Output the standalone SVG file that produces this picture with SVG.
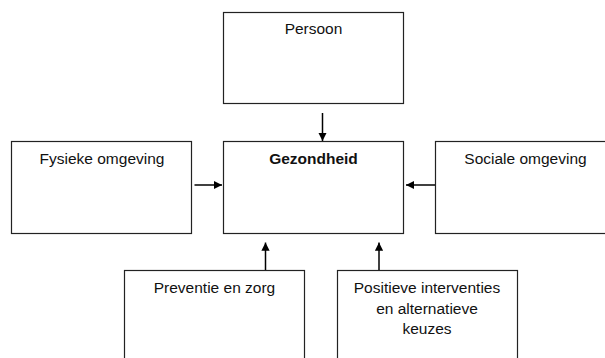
<svg xmlns="http://www.w3.org/2000/svg" width="605" height="358" viewBox="0 0 605 358">
<style>
.box{fill:#fff;stroke:#222;stroke-width:1.2}
.t{font-family:"Liberation Sans",Arial,sans-serif;font-size:15.5px;fill:#111;text-anchor:middle}
.b{font-weight:bold}
.c{stroke:#000;stroke-width:1.5;fill:none;marker-end:url(#ah)}
</style>
<defs>
<marker id="ah" viewBox="0 0 10 10" refX="10" refY="5" markerWidth="5.5" markerHeight="5.5" orient="auto" markerUnits="strokeWidth">
<path d="M0,0 L10,5 L0,10 z" fill="#000"/>
</marker>
</defs>
<rect width="605" height="358" fill="#fff"/>
<g id="persoon"><rect class="box" x="223.5" y="12.5" width="180" height="91"/><text class="t" x="313.5" y="34">Persoon</text></g>
<g id="gezondheid"><rect class="box" x="223.5" y="141.5" width="180" height="92"/><text class="t b" x="313.5" y="164">Gezondheid</text></g>
<g id="fysieke"><rect class="box" x="11.5" y="141.5" width="180" height="92"/><text class="t" x="102" y="164">Fysieke omgeving</text></g>
<g id="sociale"><rect class="box" x="435.5" y="141.5" width="180" height="92"/><text class="t" x="525.5" y="164">Sociale omgeving</text></g>
<g id="preventie"><rect class="box" x="124.5" y="270.5" width="180" height="100"/><text class="t" x="214.5" y="293">Preventie en zorg</text></g>
<g id="positieve"><rect class="box" x="337.5" y="270.5" width="180" height="100"/><text class="t" x="427" y="293">Positieve interventies</text><text class="t" x="427" y="313.5">en alternatieve</text><text class="t" x="427" y="334">keuzes</text></g>
<g id="connectors">
<line class="c" x1="322.5" y1="113" x2="322.5" y2="141"/>
<line class="c" x1="194.5" y1="185" x2="222" y2="185"/>
<line class="c" x1="435" y1="185" x2="406" y2="185"/>
<line class="c" x1="265.5" y1="270" x2="265.5" y2="242.5"/>
<line class="c" x1="379" y1="270" x2="379" y2="242.5"/>
</g>
</svg>
